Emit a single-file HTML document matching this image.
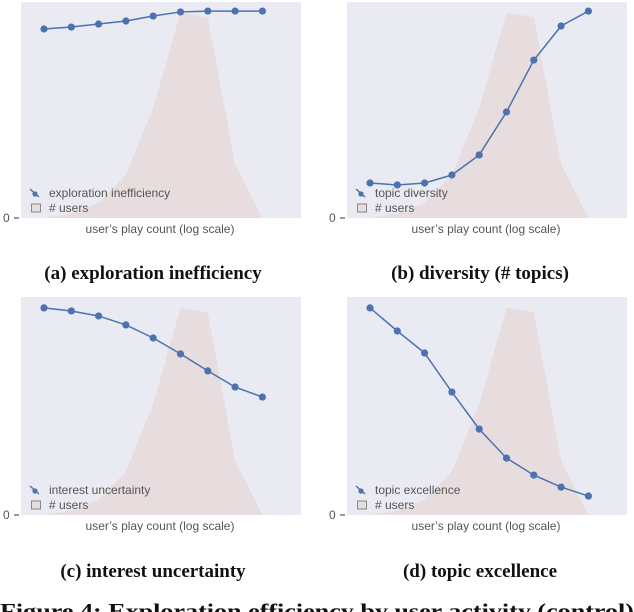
<!DOCTYPE html>
<html><head><meta charset="utf-8">
<style>
html,body{margin:0;padding:0;background:#fff;}
svg{display:block;}
.cap{font-family:"Liberation Serif",serif;font-weight:bold;font-size:19px;fill:#111;}
.lg{font-family:"Liberation Sans",sans-serif;font-size:12px;fill:#555;}
</style></head>
<body>
<svg id="fig" width="634" height="612" viewBox="0 0 634 612" xmlns="http://www.w3.org/2000/svg">
<text class="cap" x="153" y="279" text-anchor="middle">(a) exploration inefficiency</text>
<text class="cap" x="480" y="279" text-anchor="middle">(b) diversity (# topics)</text>
<text class="cap" x="153" y="577" text-anchor="middle">(c) interest uncertainty</text>
<text class="cap" x="480" y="577" text-anchor="middle">(d) topic excellence</text>
<text class="cap" x="0" y="618" style="font-size:21.5px" textLength="634" lengthAdjust="spacingAndGlyphs">Figure 4: Exploration efficiency by user activity (control)</text>
</svg>
<script>
const userCounts = [0, 2, 7, 20, 51, 95, 93, 25, 0, 0];
const inefficiency = [87.5, 88.4, 89.8, 91.2, 93.5, 95.4, 95.8, 95.8, 95.8];
const diversity = [16.2, 15.3, 16.2, 19.9, 29.2, 49.1, 73.1, 88.9, 95.8];
const uncertainty = [95.0, 93.6, 91.3, 87.2, 81.2, 73.9, 66.1, 58.7, 54.1];
const excellence = [95.0, 84.4, 74.3, 56.4, 39.4, 26.1, 18.3, 12.8, 8.7];
const legendLabels = ["exploration inefficiency", "topic diversity", "interest uncertainty", "topic excellence"];

const NS = "http://www.w3.org/2000/svg";
const svg = document.getElementById("fig");
function mk(tag, attrs, parent) {
  const e = document.createElementNS(NS, tag);
  for (const k in attrs) e.setAttribute(k, attrs[k]);
  (parent || svg).appendChild(e);
  return e;
}
function panel(px, py, w, h, series, label, key) {
  const g = mk("g", {});
  
  
  const bg = mk("rect", {x: px, y: py, width: w, height: h, fill: "#eaeaf2"}, g);
  
  
  const x0 = px + 23, dx = 27.3;
  const xs = i => x0 + i * dx;
  const ys = v => py + h - v / 100 * h;
  let d = "M" + xs(0) + "," + ys(0);
  userCounts.forEach((v, i) => { d += " L" + xs(i) + "," + ys(v); });
  d += " L" + xs(userCounts.length - 1) + "," + ys(0) + " Z";
  const area = mk("path", {d: d, fill: "#e8dcdc", opacity: "0.9"}, g);
  
  
  const pts = series.map((v, i) => xs(i) + "," + ys(v)).join(" ");
  const line = mk("polyline", {points: pts, fill: "none", stroke: "#4c72b0", "stroke-width": 1.5}, g);
  
  
  series.forEach((v, i) => {
    const c = mk("circle", {cx: xs(i), cy: ys(v), r: 3.6, fill: "#4c72b0"}, g);
    
    
  });
  const t0 = mk("text", {x: px - 18, y: py + h + 4, class: "lg", fill: "#333"}, g);
  t0.textContent = "0";
  
  
  mk("line", {x1: px - 7, x2: px - 2, y1: py + h, y2: py + h, stroke: "#333", "stroke-width": 1}, g);
  const xl = mk("text", {x: px + w / 2 - 1, y: py + h + 15, class: "lg", "text-anchor": "middle"}, g);
  xl.textContent = "user\u2019s play count (log scale)";
  
  
  const ly = py + h - 25;
  mk("line", {x1: px + 9, y1: ly - 4, x2: px + 18, y2: ly + 4, stroke: "#4c72b0", "stroke-width": 1.5}, g);
  mk("circle", {cx: px + 14, cy: ly + 1, r: 2.6, fill: "#4c72b0"}, g);
  const lt = mk("text", {x: px + 28, y: ly + 4, class: "lg"}, g);
  lt.textContent = label;
  
  
  mk("rect", {x: px + 10.5, y: ly + 11, width: 9, height: 8, fill: "#e6dcdc", stroke: "#888", "stroke-width": 1}, g);
  const lu = mk("text", {x: px + 28, y: ly + 19, class: "lg"}, g);
  lu.textContent = "# users";
  
  
}
panel(21, 2, 280, 216, inefficiency, legendLabels[0], "a");
panel(347, 2, 280, 216, diversity, legendLabels[1], "b");
panel(21, 297, 280, 218, uncertainty, legendLabels[2], "c");
panel(347, 297, 280, 218, excellence, legendLabels[3], "d");
</script>
</body></html>
